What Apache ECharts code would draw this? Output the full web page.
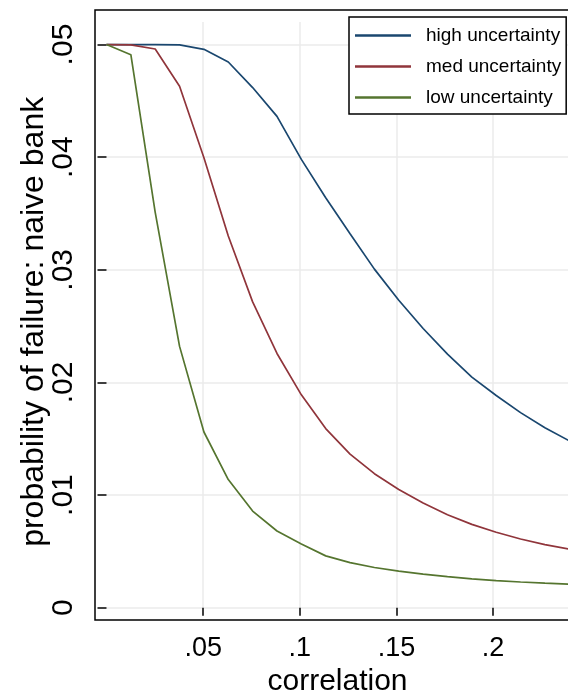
<!DOCTYPE html>
<html><head><meta charset="utf-8">
<script src="https://cdn.jsdelivr.net/npm/echarts@6/dist/echarts.min.js"></script>
<style>html,body{margin:0;padding:0;background:#fff;overflow:hidden}#c{width:568px;height:693px}</style>
</head><body><div id="c"></div>
<script>
const correlation = [0, 0.0126, 0.0252, 0.0378, 0.0504, 0.063, 0.0756, 0.0882, 0.1008, 0.1134, 0.126, 0.1386, 0.1512, 0.1638, 0.1764, 0.189, 0.2016, 0.2142, 0.2268, 0.2394, 0.252];
const highUncertainty = [0.05, 0.05, 0.05, 0.04997, 0.04957, 0.04845, 0.04618, 0.04362, 0.0398, 0.0364, 0.0332, 0.03006, 0.0273, 0.02479, 0.02252, 0.02047, 0.01884, 0.01732, 0.01598, 0.01482, 0.0138];
const medUncertainty = [0.05, 0.04997, 0.0496, 0.04629, 0.03995, 0.033, 0.02715, 0.02257, 0.0189, 0.0159, 0.01364, 0.0119, 0.0105, 0.0093, 0.00825, 0.0074, 0.0067, 0.0061, 0.0056, 0.0052, 0.0048];
const lowUncertainty = [0.05, 0.0491, 0.0351, 0.0232, 0.0156, 0.01138, 0.00858, 0.00681, 0.00565, 0.0046, 0.004, 0.00357, 0.00325, 0.00298, 0.00276, 0.00256, 0.0024, 0.00228, 0.00218, 0.00209, 0.00201];
const xTicks = [0.05, 0.1, 0.15, 0.2];
const yTicks = [0, 0.01, 0.02, 0.03, 0.04, 0.05];
const seriesNames = ['high uncertainty', 'med uncertainty', 'low uncertainty'];
const seriesColors = ['#1a476f', '#90353b', '#55752f'];

function fmt(v) { if (Math.abs(v) < 1e-12) return '0'; return String(+v.toFixed(4)).replace(/^0\./, '.'); }
const FONT = "'Liberation Sans', Arial, Helvetica, sans-serif";
const chart = echarts.init(document.getElementById('c'), null, { renderer: 'canvas' });
const pairs = arr => correlation.map((x, i) => [x, arr[i]]);
const allSeries = [highUncertainty, medUncertainty, lowUncertainty];
chart.setOption({
  animation: false,
  backgroundColor: '#fff',
  textStyle: { fontFamily: FONT },
  grid: [
    { left: 106.5, right: -0.5, top: 22, bottom: 85.3, containLabel: false, outerBoundsMode: 'none' },
    { left: 95, right: -12, top: 10, bottom: 73, containLabel: false, outerBoundsMode: 'none', show: true, borderColor: '#000', borderWidth: 1.5, backgroundColor: 'transparent' }
  ],
  xAxis: [
    {
      type: 'value', gridIndex: 0, min: 0, max: 0.239, interval: 0.05, offset: 12.3,
      axisLine: { show: false },
      axisTick: { show: true, customValues: xTicks, length: 8, lineStyle: { color: '#000', width: 1.5 } },
      axisLabel: { customValues: xTicks, formatter: fmt, fontSize: 27, color: '#000', margin: 15, fontFamily: FONT },
      splitLine: { show: true, lineStyle: { color: '#ebebeb', width: 1.5 } },
      name: 'correlation', nameLocation: 'middle', nameGap: 47, nameMoveOverlap: false,
      nameTextStyle: { fontSize: 30, color: '#000', fontFamily: FONT }
    },
    { type: 'value', gridIndex: 1, show: false, min: 0, max: 1 }
  ],
  yAxis: [
    {
      type: 'value', gridIndex: 0, min: 0, max: 0.052, interval: 0.01, offset: 11.5,
      axisLine: { show: false },
      axisTick: { show: true, customValues: yTicks, length: 9, lineStyle: { color: '#000', width: 1.5 } },
      axisLabel: { customValues: yTicks, formatter: fmt, rotate: 90, fontSize: 30, color: '#000', margin: 16, fontFamily: FONT },
      splitLine: { show: true, lineStyle: { color: '#ebebeb', width: 1.5 } },
      name: 'probability of failure: naive bank', nameLocation: 'middle', nameGap: 45, nameMoveOverlap: false,
      nameTextStyle: { fontSize: 32, color: '#000', fontFamily: FONT, padding: [0, 14, 0, 0] }
    },
    { type: 'value', gridIndex: 1, show: false, min: 0, max: 1 }
  ],
  legend: {
    show: true, orient: 'vertical', left: 349, top: 17,
    icon: 'rect', itemWidth: 56, itemHeight: 2.5, itemGap: 12,
    padding: [9, 5, 7, 6], borderColor: '#000', borderWidth: 1.5, backgroundColor: '#fff',
    textStyle: { fontSize: 19, color: '#000', fontFamily: FONT, padding: [0, 0, 0, 10] },
    data: seriesNames
  },
  series: allSeries.map((arr, k) => ({
    name: seriesNames[k], type: 'line', xAxisIndex: 0, yAxisIndex: 0,
    data: pairs(arr), symbol: 'none', smooth: false, clip: true,
    lineStyle: { width: 1.7, color: seriesColors[k] },
    itemStyle: { color: seriesColors[k] },
    z: 3
  }))
});
</script></body></html>
